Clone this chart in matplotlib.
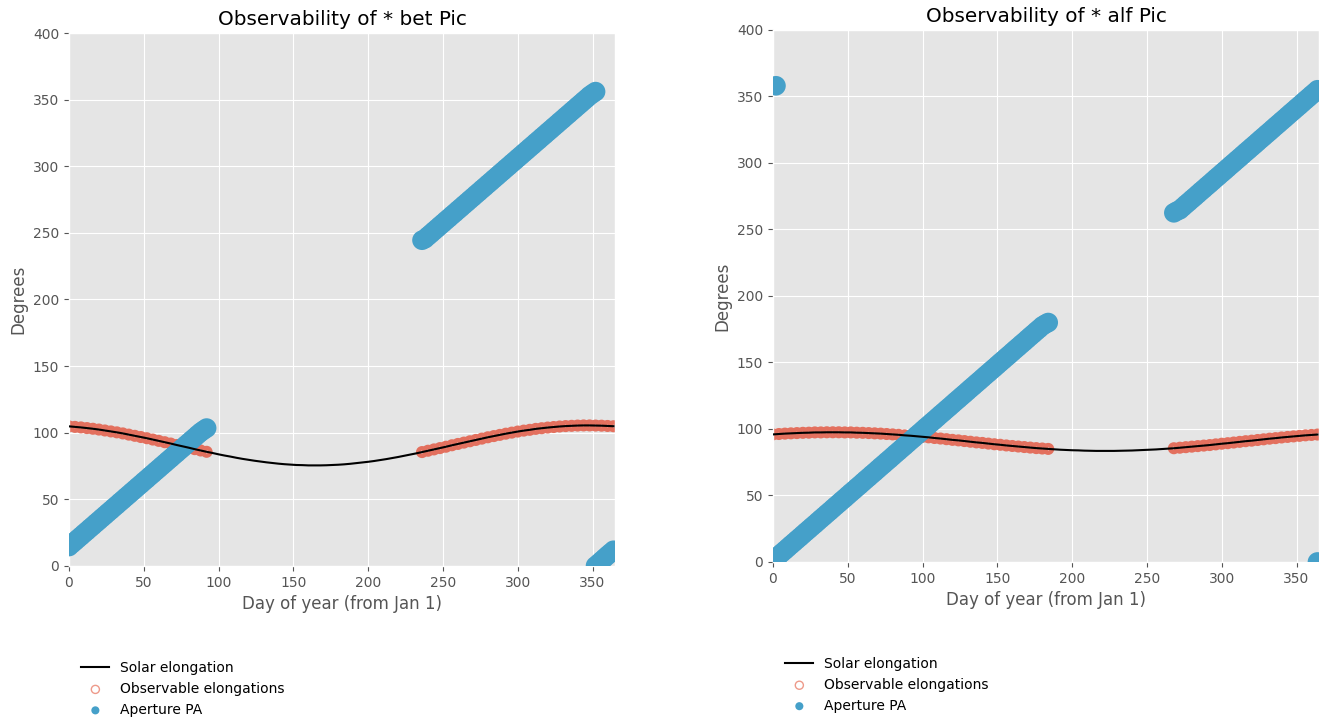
import matplotlib
matplotlib.use('Agg')
import matplotlib.pyplot as plt
import numpy as np

plt.style.use('ggplot')

# ---- data ----
# solar elongation, 4-day sampling
days = np.arange(0, 365, 4)

bet_elong = [104.8, 104.4, 104.0, 103.5, 103.0, 102.4, 101.7, 101.0, 100.3, 99.5,
             98.6, 97.7, 96.8, 95.9, 94.9, 93.9, 92.9, 91.9, 90.8, 89.8,
             88.8, 87.7, 86.7, 85.7, 84.8, 83.8, 82.9, 82.1, 81.2, 80.4,
             79.7, 79.0, 78.4, 77.8, 77.3, 76.8, 76.4, 76.1, 75.8, 75.7,
             75.5, 75.5, 75.5, 75.6, 75.8, 76.0, 76.3, 76.7, 77.2, 77.7,
             78.2, 78.8, 79.5, 80.2, 81.0, 81.8, 82.7, 83.6, 84.5, 85.5,
             86.5, 87.5, 88.5, 89.5, 90.6, 91.6, 92.6, 93.6, 94.6, 95.6,
             96.6, 97.5, 98.4, 99.3, 100.1, 100.9, 101.6, 102.2, 102.9, 103.4,
             103.9, 104.3, 104.7, 105.0, 105.2, 105.4, 105.5, 105.5, 105.4, 105.3,
             105.1, 104.9]
alf_elong = [95.9, 96.2, 96.5, 96.7, 96.9, 97.1, 97.2, 97.4, 97.4, 97.5,
             97.5, 97.5, 97.4, 97.4, 97.2, 97.1, 96.9, 96.7, 96.5, 96.2,
             95.9, 95.6, 95.2, 94.9, 94.5, 94.1, 93.7, 93.2, 92.8, 92.3,
             91.8, 91.4, 90.9, 90.4, 89.9, 89.5, 89.0, 88.5, 88.1, 87.6,
             87.2, 86.8, 86.4, 86.0, 85.6, 85.3, 85.0, 84.7, 84.4, 84.2,
             84.0, 83.9, 83.7, 83.6, 83.5, 83.5, 83.5, 83.5, 83.6, 83.7,
             83.8, 84.0, 84.2, 84.4, 84.6, 84.9, 85.2, 85.5, 85.9, 86.3,
             86.7, 87.1, 87.5, 87.9, 88.4, 88.9, 89.3, 89.8, 90.3, 90.8,
             91.2, 91.7, 92.2, 92.7, 93.1, 93.6, 94.0, 94.4, 94.8, 95.2,
             95.5, 95.8]

# observable windows (day ranges)
bet_obs = [(0, 92), (236, 364)]
alf_obs = [(0, 184), (268, 364)]

# aperture PA, 2-day sampling
bet_pa_days = (list(range(0, 93, 2)) + list(range(236, 353, 2))
               + list(range(352, 365, 2)))
bet_pa = [14.6, 16.6, 18.5, 20.5, 22.4, 24.4, 26.3, 28.3, 30.2, 32.2,
          34.1, 36.1, 38.0, 40.0, 41.9, 43.9, 45.8, 47.8, 49.7, 51.7,
          53.6, 55.6, 57.5, 59.5, 61.4, 63.4, 65.3, 67.3, 69.2, 71.2,
          73.1, 75.1, 77.0, 79.0, 80.9, 82.9, 84.8, 86.8, 88.7, 90.7,
          92.6, 94.6, 96.5, 98.5, 100.4, 102.0, 103.5,
          244.5, 245.6, 247.6, 249.5, 251.5, 253.4, 255.4, 257.3, 259.3, 261.2,
          263.2, 265.1, 267.1, 269.0, 271.0, 272.9, 274.9, 276.8, 278.8, 280.7,
          282.7, 284.6, 286.6, 288.5, 290.5, 292.4, 294.4, 296.3, 298.3, 300.2,
          302.2, 304.1, 306.1, 308.0, 310.0, 311.9, 313.9, 315.8, 317.8, 319.7,
          321.7, 323.6, 325.6, 327.5, 329.5, 331.4, 333.4, 335.3, 337.3, 339.2,
          341.2, 343.1, 345.1, 347.0, 349.0, 350.9, 352.9, 354.5, 356.0,
          0.1, 2.0, 4.0, 6.0, 8.0, 9.9, 11.8]

alf_pa_days = ([2] + list(range(0, 185, 2)) + list(range(268, 365, 2))
               + [364])
alf_pa = [358.0,
          1.0, 3.0, 4.9, 6.9, 8.8, 10.8, 12.8, 14.7, 16.7, 18.6,
          20.6, 22.6, 24.5, 26.5, 28.4, 30.4, 32.4, 34.3, 36.3, 38.2,
          40.2, 42.2, 44.1, 46.1, 48.0, 50.0, 52.0, 53.9, 55.9, 57.8,
          59.8, 61.8, 63.7, 65.7, 67.6, 69.6, 71.6, 73.5, 75.5, 77.4,
          79.4, 81.4, 83.3, 85.3, 87.2, 89.2, 91.2, 93.1, 95.1, 97.0,
          99.0, 101.0, 102.9, 104.9, 106.8, 108.8, 110.8, 112.7, 114.7, 116.6,
          118.6, 120.6, 122.5, 124.5, 126.4, 128.4, 130.4, 132.3, 134.3, 136.2,
          138.2, 140.2, 142.1, 144.1, 146.0, 148.0, 150.0, 151.9, 153.9, 155.8,
          157.8, 159.8, 161.7, 163.7, 165.6, 167.6, 169.6, 171.5, 173.5, 175.4,
          177.4, 178.8, 180.0,
          262.5, 263.8, 264.8, 266.8, 268.8, 270.7, 272.7, 274.6, 276.6, 278.6,
          280.5, 282.5, 284.4, 286.4, 288.4, 290.3, 292.3, 294.2, 296.2, 298.2,
          300.1, 302.1, 304.0, 306.0, 308.0, 309.9, 311.9, 313.8, 315.8, 317.8,
          319.7, 321.7, 323.6, 325.6, 327.6, 329.5, 331.5, 333.4, 335.4, 337.4,
          339.3, 341.3, 343.2, 345.2, 347.2, 349.1, 351.1, 353.0, 355.0,
          0.0]

RED = '#E3705E'
BLUE = '#45A0C9'


def draw(ax, name, elong, obs, pa_days, pa):
    elong = np.asarray(elong)
    mask = np.zeros(len(days), dtype=bool)
    for a, b in obs:
        mask |= (days >= a) & (days <= b)

    ax.plot(days, elong, color='k', lw=1.5, label='Solar elongation', zorder=4)
    ax.scatter(days[mask], elong[mask], s=30, facecolors='none',
               edgecolors=RED, linewidths=3.2,
               label='Observable elongations', zorder=2)
    ax.scatter(pa_days, pa, s=200, color=BLUE, edgecolors='none',
               label='Aperture PA', zorder=3)

    ax.set_xlim(0, 365)
    ax.set_ylim(0, 400)
    ax.set_title(f'Observability of * {name}')
    ax.set_xlabel('Day of year (from Jan 1)')
    ax.set_ylabel('Degrees')

    leg = ax.legend(loc='upper left', bbox_to_anchor=(0, -0.155),
                    frameon=False, fontsize=10)
    hs = leg.legend_handles
    hs[1].set_sizes([34])
    hs[1].set_linewidths([1.0])
    hs[1].set_edgecolor('#EE9A8A')
    hs[2].set_sizes([34])


fig = plt.figure(figsize=(13.24, 7.19), dpi=100)
ax1 = fig.add_axes([0.0521, 0.2128, 0.4124, 0.7413])
ax2 = fig.add_axes([0.5838, 0.2184, 0.4124, 0.7400])

draw(ax1, 'bet Pic', bet_elong, bet_obs, bet_pa_days, bet_pa)
draw(ax2, 'alf Pic', alf_elong, alf_obs, alf_pa_days, alf_pa)

fig.savefig('out.png', dpi=100)
